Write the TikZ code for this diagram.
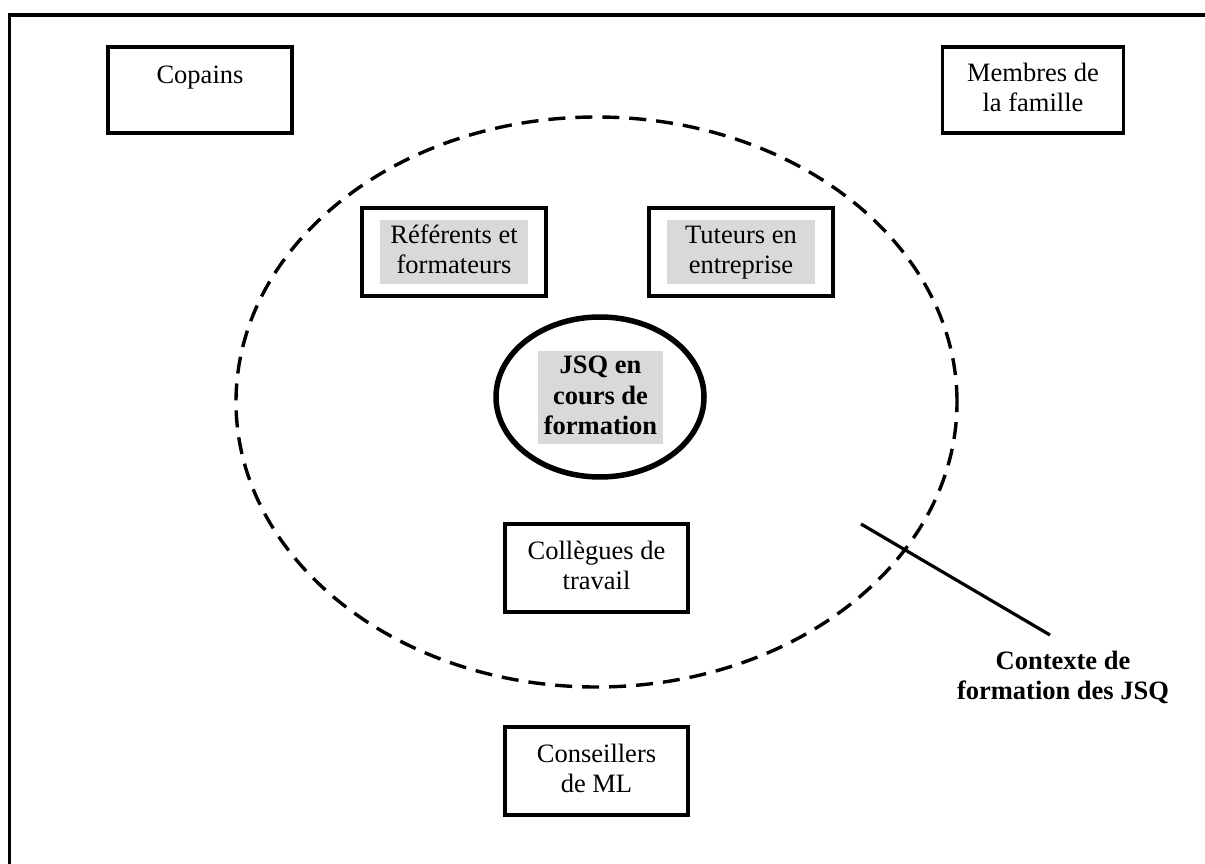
\documentclass[tikz,border=0pt]{standalone}
\usepackage{fontspec}
\setmainfont{Liberation Serif}
\usetikzlibrary{shapes.geometric}
\definecolor{shade}{gray}{0.85}
\newcommand\linestrut{\rule[-6pt]{0pt}{25pt}}
\begin{document}
\begin{tikzpicture}[x=1pt,y=-1pt,
  every node/.style={font=\fontsize{26.5}{30.5}\selectfont, align=center, inner sep=0pt},
  box/.style={draw, line width=3.6pt, rectangle, minimum width=184pt, minimum height=88pt},
  shadebox/.style={fill=shade, minimum width=148pt, minimum height=64pt},
  bold/.style={font=\fontsize{26.5}{30.5}\selectfont\bfseries},
  frame/.style={line width=3.6pt, line join=miter},
  ctxline/.style={draw, line width=3.4pt, dash pattern=on 17pt off 10pt, ellipse},
  core/.style={draw, line width=5.5pt, ellipse, minimum width=208pt, minimum height=160pt},
  pointer/.style={line width=3.2pt}]
\useasboundingbox (0,0) rectangle (1205,864);
% outer frame
\draw[frame] (9.5,875) -- (9.5,15) -- (1215,15);
% context ellipse
\node[ctxline, minimum width=721pt, minimum height=570pt] (ctx) at (596.5,402) {};
% top corner boxes
\node[box, minimum height=86pt] (copains) at (200,90) {};
\node (copainsT) at (200,77) {Copains\linestrut};
\node[box, minimum width=181pt, minimum height=86pt] (famille) at (1033,90) {Membres de\linestrut\\la famille\linestrut};
% referents & tuteurs
\node[box] (referents) at (454,252) {};
\node[shadebox] (referentsT) at (454,252) {Référents et\linestrut\\formateurs\linestrut};
\node[box] (tuteurs) at (741,252) {};
\node[shadebox] (tuteursT) at (741,252) {Tuteurs en\linestrut\\entreprise\linestrut};
% core
\node[core] (jsq) at (600,397) {};
\node[fill=shade, minimum width=125pt, minimum height=93pt, bold] (jsqT) at (600.5,397.5) {JSQ en\linestrut\\cours de\linestrut\\formation\linestrut};
% lower boxes
\node[box, minimum width=183pt] (collegues) at (596.5,568) {Collègues de\linestrut\\travail\linestrut};
\node[box, minimum width=183pt] (conseillers) at (596.5,771) {Conseillers\linestrut\\de ML\linestrut};
% label
\coordinate (ptrA) at (861,524);
\coordinate (ptrB) at (1050,635);
\draw[pointer] (ptrA) -- (ptrB);
\node[bold] (ctxlabel) at (1063,678) {Contexte de\linestrut\\formation des JSQ\linestrut};
\end{tikzpicture}
\end{document}
